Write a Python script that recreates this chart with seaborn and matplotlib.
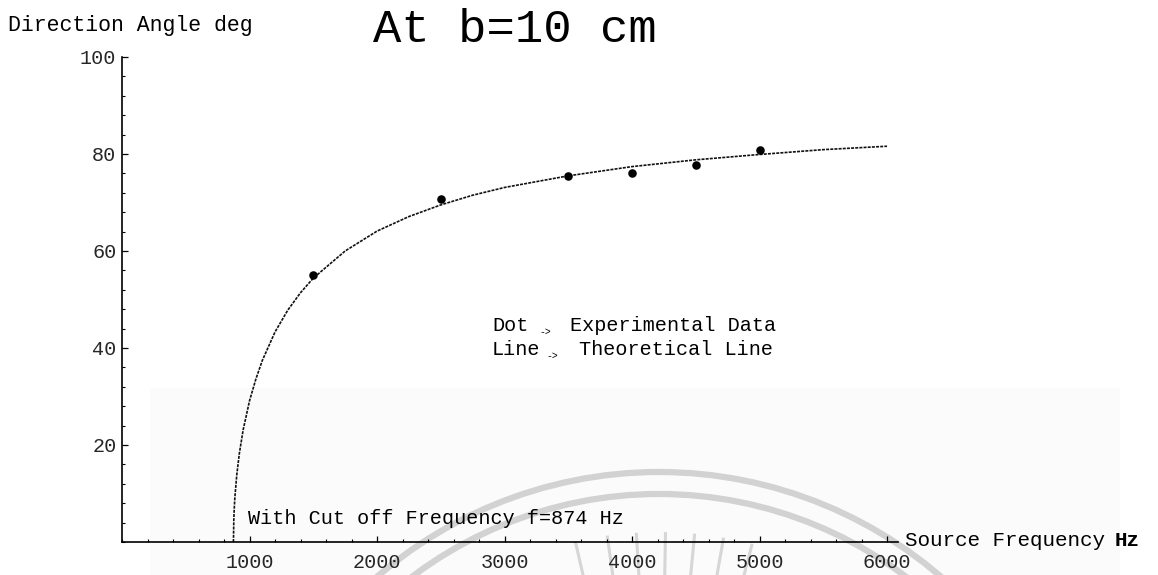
import numpy as np
import pandas as pd
import matplotlib
matplotlib.use("Agg")
import matplotlib.pyplot as plt
from matplotlib.patches import Arc
from matplotlib.ticker import MultipleLocator, FixedLocator
import seaborn as sns

# Measured direction angle of the radiated beam (b = 10 cm)
exp_freq_hz = [1500, 2500, 3500, 4000, 4500, 5000]
exp_angle_deg = [55.0, 70.7, 75.5, 76.1, 77.7, 80.8]

# Theoretical curve, starting at the cut-off frequency
cutoff_hz = 874
theory_freq_hz = [cutoff_hz, 877, 880, 885, 900, 920, 950, 1000, 1050, 1100,
                  1200, 1300, 1400, 1500, 1750, 2000, 2250, 2500, 2750,
                  3000, 3500, 4000, 4500, 5000, 5500, 6000]
theory_angle_deg = [0.0, 4.7, 6.7, 9.1, 13.8, 18.2, 23.1, 29.1, 33.6, 37.4,
                    43.3, 47.8, 51.4, 54.4, 60.0, 64.1, 67.1, 69.5, 71.5,
                    73.1, 75.5, 77.4, 78.8, 79.9, 80.9, 81.6]

x_major_ticks = [1000, 2000, 3000, 4000, 5000, 6000]
y_major_ticks = [20, 40, 60, 80, 100]

sns.set_theme(style="white")
plt.rcParams["font.family"] = ["Liberation Mono", "DejaVu Sans"]
plt.rcParams["text.color"] = "black"

W, H = 1158, 575
fig = plt.figure(figsize=(W / 100, H / 100), dpi=100)
fig.patch.set_facecolor("white")

# Faint emblem layer behind the plot, in pixel coordinates
bg = fig.add_axes([0, 0, 1, 1], zorder=0)
bg.set_xlim(0, W)
bg.set_ylim(H, 0)
bg.axis("off")
bg.add_patch(plt.Rectangle((150, 388), 970, 190, color="#fbfbfb", lw=0))
cx, cy = 659, 904
for r in (432, 410):
    bg.add_patch(Arc((cx, cy), 2 * r, 2 * r, theta1=180, theta2=360,
                     color="#d2d2d2", lw=4.5))
for ang in np.deg2rad([-13, -8, -3.5, 1, 5.5, 10, 14.5]):
    r0, r1 = 328, 372
    bg.plot([cx + r0 * np.sin(ang), cx + r1 * np.sin(ang)],
            [cy - r0 * np.cos(ang), cy - r1 * np.cos(ang)],
            color="#d6d6d6", lw=2.2, solid_capstyle="butt")

left, right, bottom_px, top_px = 122, 898, 542, 57
ax = fig.add_axes([left / W, 1 - bottom_px / H, (right - left) / W,
                   (bottom_px - top_px) / H], zorder=1)
ax.set_facecolor("none")

theory = pd.DataFrame({"freq": theory_freq_hz, "angle": theory_angle_deg})
exp = pd.DataFrame({"freq": exp_freq_hz, "angle": exp_angle_deg})

sns.lineplot(data=theory, x="freq", y="angle", ax=ax, color="#111111",
             lw=1.2, sort=False)
ax.lines[-1].set_linestyle((0, (1.8, 0.7)))
sns.scatterplot(data=exp, x="freq", y="angle", ax=ax, color="black",
                s=38, edgecolor="black", linewidth=0, zorder=3)

ax.set_xlim(0, 6086)
ax.set_ylim(0, 100)
ax.set_xlabel("")
ax.set_ylabel("")

for side in ("top", "right"):
    ax.spines[side].set_visible(False)
for side in ("left", "bottom"):
    ax.spines[side].set_color("black")
    ax.spines[side].set_linewidth(1.2)

ax.xaxis.set_major_locator(FixedLocator(x_major_ticks))
ax.xaxis.set_minor_locator(MultipleLocator(200))
ax.yaxis.set_major_locator(FixedLocator(y_major_ticks))
ax.yaxis.set_minor_locator(MultipleLocator(4))
ax.tick_params(axis="both", which="major", direction="in", length=4,
               width=0.9, color="black", labelsize=14.5)
ax.tick_params(axis="both", which="minor", direction="in", length=2.4,
               width=0.8, color="black")
ax.tick_params(axis="x", which="major", pad=8)
ax.tick_params(axis="y", which="major", pad=4)
ax.tick_params(axis="y", which="both", left=True)
ax.tick_params(axis="x", which="both", bottom=True)

# Annotations inside the plot
ax.text(2902, 44.7, "Dot", fontsize=14.5, va="center")
ax.text(3270, 43.4, "->", fontsize=7, va="center")
ax.text(3514, 44.7, "Experimental Data", fontsize=14.5, va="center")
ax.text(2902, 39.6, "Line", fontsize=14.5, va="center")
ax.text(3330, 38.3, "->", fontsize=7, va="center")
ax.text(3584, 39.6, "Theoretical Line", fontsize=14.5, va="center")
ax.text(988, 4.9, f"With Cut off Frequency f={cutoff_hz} Hz",
        fontsize=14.5, va="center")

# Axis captions and title
fig.text(8 / W, 1 - 25 / H, "Direction Angle deg", fontsize=15.5,
         va="center", ha="left")
fig.text(905 / W, 1 - 541 / H, "Source Frequency", fontsize=15,
         va="center", ha="left")
fig.text(1115 / W, 1 - 541 / H, "Hz", fontsize=15, fontweight="bold",
         va="center", ha="left")
fig.text(515 / W, 1 - 30 / H, "At b=10 cm", fontsize=34,
         va="center", ha="center")

fig.savefig("out.png", dpi=100)
